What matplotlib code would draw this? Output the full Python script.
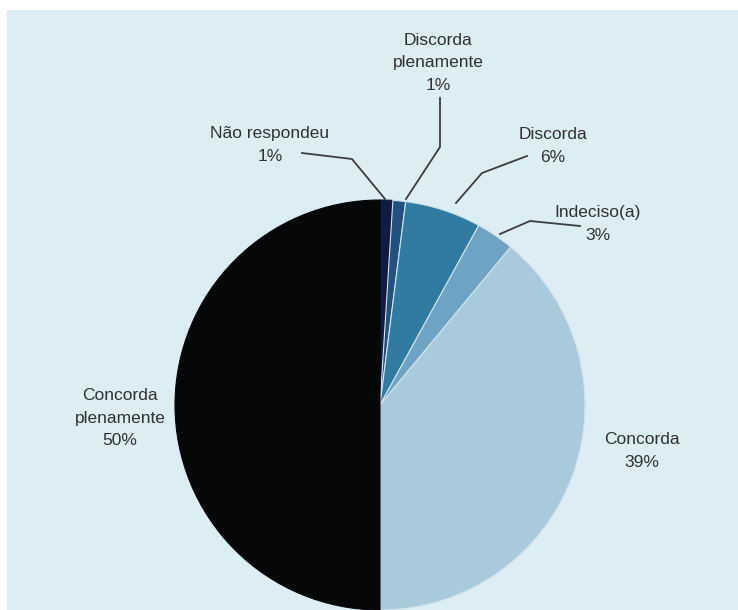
import matplotlib.pyplot as plt
from matplotlib.patches import Rectangle

# survey answers, clockwise from 12 o'clock
labels = ["Não respondeu", "Discorda\nplenamente", "Discorda", "Indeciso(a)",
          "Concorda", "Concorda\nplenamente"]
values = [1, 1, 6, 3, 39, 50]
colors = ["#0f1b42", "#22507f", "#2f7ba1", "#6ea3c4", "#a8cadb", "#060709"]

W, H = 738, 610
BG = "#dcedf3"

fig = plt.figure(figsize=(W / 100, H / 100), dpi=100)
fig.patch.set_facecolor("white")
ax = fig.add_axes([0, 0, 1, 1])

cx, cy, r = 380, H - 405, 205
wedges, _ = ax.pie(values, colors=colors, startangle=90, counterclock=False,
                   center=(cx, cy), radius=r,
                   wedgeprops=dict(linewidth=0.8, edgecolor="#cfe4ee"))
wedges[0].set_edgecolor(colors[0])
wedges[-1].set_edgecolor(colors[-1])
for w in wedges:
    w.set_zorder(2)

# pie() resets the limits, so set them afterwards
ax.set_xlim(0, W)
ax.set_ylim(0, H)
ax.set_aspect("equal")
ax.axis("off")

# scanned page background
ax.add_patch(Rectangle((7, 0), W - 7, H - 10, facecolor=BG, edgecolor="none", zorder=0))

# label text position and leader line points (pixels from top-left)
layout = {
    0: dict(text=(270, 145), path=[(302, 153), (352, 159), (385, 199)]),
    1: dict(text=(438, 63), path=[(440, 98), (440, 147), (406, 199)]),
    2: dict(text=(553, 146), path=[(527, 156), (482, 173), (456, 203)]),
    3: dict(text=(598, 224), path=[(580, 226), (530, 221), (500, 234)]),
    4: dict(text=(642, 451), path=None),
    5: dict(text=(120, 418), path=None),
}

for i, (lab, v) in enumerate(zip(labels, values)):
    tx, ty = layout[i]["text"]
    ax.text(tx, H - ty, f"{lab}\n{v}%", ha="center", va="center",
            fontsize=12.5, family="Liberation Sans", color="#2e3136",
            linespacing=1.6, zorder=4)
    pts = layout[i]["path"]
    if pts:
        ax.plot([p[0] for p in pts], [H - p[1] for p in pts],
                color="#3a3d42", lw=1.3, zorder=3)

fig.savefig("out.png", dpi=100, facecolor=fig.get_facecolor())
